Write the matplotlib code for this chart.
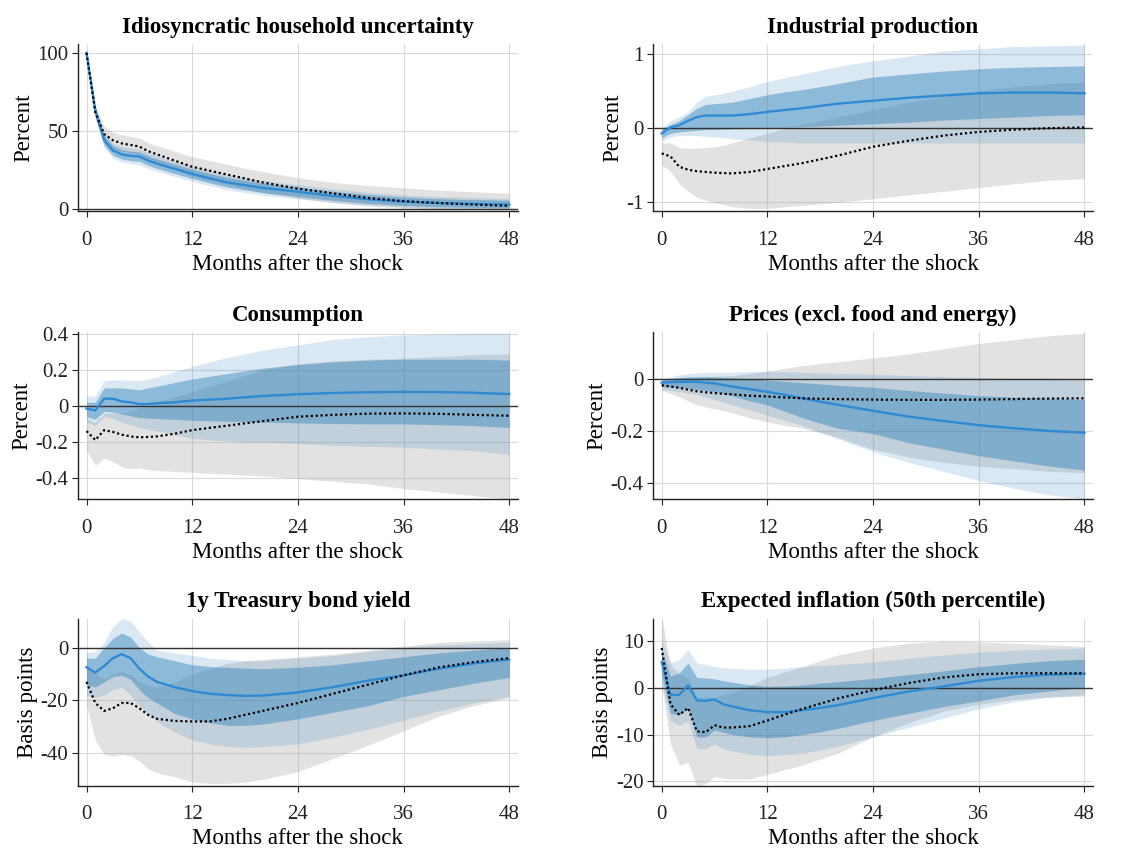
import matplotlib
matplotlib.use("Agg")
import matplotlib.pyplot as plt
from matplotlib.ticker import FuncFormatter

plt.rcParams['font.family'] = ['Liberation Serif', 'DejaVu Serif']
plt.rcParams['axes.unicode_minus'] = False

months = [0, 1, 2, 3, 4, 5, 6, 7, 8, 10, 12, 14, 16, 18, 20, 24, 28, 32, 36, 40, 44, 48]

# --- Idiosyncratic household uncertainty
unc_med = [100, 63, 44, 37.5, 35, 34, 33.6, 31, 29, 25.7, 22.5, 19.6, 17, 15.2, 13.5, 11, 8.3, 6.2, 4.7, 3.8, 3.2, 2.8]
unc_hi68 = [100, 65, 47, 40.5, 38, 37, 36.5, 34, 32, 28.7, 25.5, 22.7, 20.2, 18.3, 16.6, 14, 11.3, 9.2, 7.6, 6.6, 6, 5.6]
unc_lo68 = [100, 60, 41, 34.5, 32, 31, 30.5, 28, 26, 22.7, 19.5, 16.6, 14, 12.2, 10.5, 8, 5.5, 3.6, 2.2, 1.4, 1, 0.8]
unc_hi90 = [100, 66, 49, 42, 40, 39, 38.5, 36, 34, 30.5, 27.3, 24.5, 22, 20, 18.3, 15.6, 12.8, 10.6, 9, 8, 7.3, 6.8]
unc_lo90 = [100, 58, 39, 32.5, 30, 29, 28.5, 26, 24, 20.8, 17.7, 14.8, 12.3, 10.5, 8.8, 6.5, 4.2, 2.5, 1.2, 0.5, 0.2, 0]
unc_alt = [100, 62, 48, 44, 42, 41, 40, 37, 35, 31, 27, 24.5, 22, 19.5, 17, 13, 10, 7, 5, 3.8, 2.8, 2]
unc_alt_hi = [100, 66, 53, 49, 47.5, 46.5, 45.5, 42.5, 40.5, 37, 33.5, 31, 28.5, 26, 24, 20, 17, 15, 13.5, 12, 11, 10]
unc_alt_lo = [100, 57, 43, 39, 37, 36, 35, 31.5, 29.5, 25.5, 21, 18, 15.5, 13, 10.5, 7, 4, 2, 0.8, 0.2, 0, 0]

# --- Industrial production
ip_med = [-0.07, 0.01, 0.04, 0.1, 0.15, 0.17, 0.17, 0.17, 0.17, 0.19, 0.22, 0.245, 0.27, 0.3, 0.33, 0.37, 0.41, 0.44, 0.47, 0.48, 0.48, 0.47]
ip_hi68 = [-0.02, 0.05, 0.1, 0.18, 0.27, 0.32, 0.33, 0.34, 0.35, 0.4, 0.45, 0.49, 0.52, 0.56, 0.6, 0.69, 0.73, 0.77, 0.8, 0.82, 0.83, 0.84]
ip_lo68 = [-0.13, -0.07, -0.05, -0.04, -0.03, -0.02, -0.02, -0.015, -0.01, -0.005, 0.0, 0.01, 0.02, 0.03, 0.04, 0.06, 0.08, 0.11, 0.13, 0.15, 0.17, 0.18]
ip_hi90 = [0.0, 0.1, 0.15, 0.22, 0.35, 0.43, 0.45, 0.47, 0.5, 0.56, 0.63, 0.68, 0.73, 0.78, 0.83, 0.91, 0.97, 1.04, 1.07, 1.1, 1.11, 1.12]
ip_lo90 = [-0.17, -0.12, -0.1, -0.1, -0.1, -0.11, -0.12, -0.13, -0.14, -0.16, -0.18, -0.19, -0.2, -0.2, -0.2, -0.2, -0.2, -0.2, -0.2, -0.2, -0.2, -0.2]
ip_alt = [-0.34, -0.38, -0.52, -0.56, -0.58, -0.59, -0.6, -0.605, -0.61, -0.59, -0.55, -0.51, -0.47, -0.42, -0.37, -0.25, -0.17, -0.1, -0.05, -0.02, 0.0, 0.01]
ip_alt_hi = [-0.2, -0.2, -0.26, -0.27, -0.27, -0.26, -0.25, -0.23, -0.2, -0.13, -0.07, 0.0, 0.05, 0.1, 0.15, 0.25, 0.35, 0.43, 0.5, 0.56, 0.6, 0.62]
ip_alt_lo = [-0.5, -0.58, -0.75, -0.85, -0.93, -0.97, -1.0, -1.03, -1.06, -1.08, -1.08, -1.06, -1.04, -1.02, -1.0, -0.95, -0.9, -0.85, -0.8, -0.75, -0.7, -0.68]

# --- Consumption
con_med = [-0.015, -0.025, 0.04, 0.04, 0.025, 0.02, 0.01, 0.01, 0.015, 0.02, 0.03, 0.035, 0.04, 0.048, 0.055, 0.065, 0.072, 0.076, 0.078, 0.077, 0.073, 0.066]
con_hi68 = [0.02, 0.02, 0.1, 0.1, 0.1, 0.095, 0.09, 0.1, 0.11, 0.13, 0.15, 0.165, 0.18, 0.195, 0.21, 0.23, 0.245, 0.255, 0.26, 0.26, 0.26, 0.255]
con_lo68 = [-0.06, -0.075, -0.03, -0.035, -0.045, -0.055, -0.065, -0.068, -0.07, -0.075, -0.08, -0.083, -0.085, -0.088, -0.09, -0.095, -0.098, -0.1, -0.1, -0.105, -0.11, -0.12]
con_hi90 = [0.055, 0.055, 0.14, 0.145, 0.145, 0.142, 0.14, 0.15, 0.16, 0.19, 0.22, 0.245, 0.27, 0.29, 0.31, 0.34, 0.37, 0.385, 0.395, 0.4, 0.405, 0.405]
con_lo90 = [-0.09, -0.11, -0.06, -0.07, -0.09, -0.105, -0.12, -0.13, -0.14, -0.16, -0.18, -0.19, -0.195, -0.2, -0.2, -0.21, -0.22, -0.225, -0.23, -0.24, -0.25, -0.27]
con_alt = [-0.14, -0.19, -0.135, -0.145, -0.16, -0.17, -0.175, -0.173, -0.17, -0.155, -0.135, -0.122, -0.11, -0.097, -0.085, -0.06, -0.05, -0.043, -0.042, -0.044, -0.05, -0.055]
con_alt_hi = [-0.07, -0.09, -0.04, -0.04, -0.04, -0.03, -0.01, 0.0, 0.02, 0.05, 0.08, 0.11, 0.14, 0.17, 0.2, 0.235, 0.25, 0.26, 0.265, 0.275, 0.285, 0.29]
con_alt_lo = [-0.25, -0.33, -0.29, -0.31, -0.34, -0.35, -0.345, -0.355, -0.36, -0.365, -0.37, -0.375, -0.38, -0.385, -0.39, -0.405, -0.42, -0.435, -0.46, -0.48, -0.5, -0.52]

# --- Prices (excl. food and energy)
pr_med = [-0.015, -0.013, -0.012, -0.012, -0.012, -0.015, -0.018, -0.024, -0.03, -0.04, -0.05, -0.062, -0.075, -0.088, -0.1, -0.123, -0.145, -0.162, -0.178, -0.19, -0.2, -0.207]
pr_hi68 = [-0.005, 0.0, 0.005, 0.007, 0.008, 0.008, 0.007, 0.005, 0.004, 0.0, -0.005, -0.01, -0.015, -0.02, -0.025, -0.033, -0.045, -0.055, -0.065, -0.07, -0.075, -0.08]
pr_lo68 = [-0.03, -0.032, -0.035, -0.037, -0.04, -0.045, -0.05, -0.057, -0.065, -0.085, -0.1, -0.125, -0.15, -0.17, -0.19, -0.21, -0.245, -0.27, -0.295, -0.315, -0.335, -0.35]
pr_hi90 = [0.0, 0.008, 0.015, 0.019, 0.022, 0.024, 0.025, 0.025, 0.025, 0.028, 0.028, 0.027, 0.025, 0.022, 0.02, 0.017, 0.012, 0.008, 0.005, 0.003, 0.002, 0.0]
pr_lo90 = [-0.04, -0.045, -0.05, -0.055, -0.06, -0.07, -0.08, -0.09, -0.1, -0.12, -0.14, -0.16, -0.18, -0.205, -0.23, -0.28, -0.32, -0.355, -0.39, -0.42, -0.445, -0.46]
pr_alt = [-0.025, -0.03, -0.035, -0.042, -0.048, -0.052, -0.055, -0.058, -0.06, -0.065, -0.068, -0.072, -0.075, -0.077, -0.078, -0.08, -0.081, -0.081, -0.08, -0.078, -0.076, -0.075]
pr_alt_hi = [-0.01, -0.005, 0.0, 0.003, 0.005, 0.007, 0.008, 0.01, 0.012, 0.02, 0.03, 0.04, 0.05, 0.058, 0.065, 0.08, 0.095, 0.115, 0.135, 0.15, 0.165, 0.175]
pr_alt_lo = [-0.045, -0.055, -0.07, -0.085, -0.1, -0.108, -0.115, -0.122, -0.13, -0.15, -0.165, -0.178, -0.19, -0.207, -0.225, -0.27, -0.3, -0.32, -0.335, -0.345, -0.355, -0.36]

# --- 1y Treasury bond yield
ty_med = [-7.5, -9.5, -7, -4, -2.5, -4, -8, -11, -13, -15, -16.5, -17.5, -18, -18.3, -18.2, -17, -15, -12.5, -10.5, -8, -6, -4.5]
ty_hi68 = [-4, -4, 0, 3.5, 5.5, 4, 0, -2.5, -3.5, -5, -6.5, -7.2, -7.5, -7.8, -8, -7.5, -6.5, -5, -3.5, -2, -1, 0]
ty_lo68 = [-14, -15, -13, -11, -10.5, -12, -16, -19, -21, -25, -27, -28.5, -29.5, -29.5, -29, -27, -24.5, -22, -18.5, -16, -13.5, -11.3]
ty_hi90 = [-2, -1.5, 2, 8, 11, 10, 6, 2, -1, -2, -3, -4, -4.5, -5, -5, -4, -3, -1.5, 0, 1, 1.5, 2]
ty_lo90 = [-18, -19, -18, -16, -15, -18, -22, -25, -28, -32, -35, -36.5, -37.5, -37.8, -37.5, -36.5, -34, -31, -27.5, -24, -21, -18.5]
ty_alt = [-13, -21, -24, -23, -21, -21, -23, -25.5, -27, -27.8, -28, -28, -27, -25.5, -24, -21, -17.5, -14, -10.5, -7.5, -5.5, -4]
ty_alt_hi = [-6, -10, -12, -10, -9, -10, -13, -14, -15, -13, -10, -8, -6, -5, -4.5, -3.5, -2.5, -1, 0.5, 2, 2.5, 3]
ty_alt_lo = [-22, -35, -40.5, -41, -40.5, -41, -43, -46, -47.5, -49, -51, -51.5, -51.5, -51, -50, -47, -42, -37, -31.5, -26, -22, -19]

# --- Expected inflation (50th percentile)
ei_med = [5.5, -1.5, -1.5, 0.5, -2.7, -2.8, -2.5, -3.5, -4, -4.8, -5.2, -5.2, -4.8, -4.3, -3.7, -2.2, -0.8, 0.3, 1.5, 2.3, 2.8, 3]
ei_hi68 = [8, 2.5, 3.2, 5.3, 2.2, 2.1, 1.9, 1.5, 1.2, 0.6, 0.3, 0.4, 0.6, 1, 1.3, 2, 2.8, 3.6, 4.5, 5.2, 5.8, 6.1]
ei_lo68 = [3, -5.5, -5.8, -4.5, -10.5, -10.5, -9, -9.5, -10, -10.5, -10.7, -10.5, -10, -9.4, -8.7, -7, -5.5, -4, -2.8, -1.5, -0.7, 0.1]
ei_hi90 = [10, 5.3, 6, 8.2, 5.3, 5, 4.5, 4.3, 4.1, 4, 4, 4.2, 4.5, 4.8, 5, 5.5, 6.3, 7, 7.6, 8, 8.3, 8.5]
ei_lo90 = [1, -7, -8, -7, -13, -13, -12, -13, -13.5, -14.2, -14.5, -14.3, -14, -13.3, -12.5, -10.5, -8.5, -6.5, -4.5, -3, -2, -1.5]
ei_alt = [8.5, -3.5, -5.8, -4.3, -9.3, -9.5, -8, -8.5, -8.5, -8.2, -7, -5.7, -4.5, -3.4, -2.3, -0.5, 1, 2.2, 2.9, 3.1, 3.1, 3.1]
ei_alt_hi = [15, 5, 3, 2, -2, -2, -2, -1.5, -1, 0.5, 2.2, 3.4, 4.5, 5.8, 7, 8.5, 9.5, 10, 9.8, 9.5, 9.2, 8.8]
ei_alt_lo = [1, -12, -16.5, -16, -21, -20.5, -19, -19.3, -19.5, -19.5, -18.5, -17.5, -16.5, -15.2, -14, -10.5, -7.5, -5, -3.5, -2.5, -2, -1.8]

titles = ["Idiosyncratic household uncertainty", "Industrial production", "Consumption",
          "Prices (excl. food and energy)", "1y Treasury bond yield", "Expected inflation (50th percentile)"]
ylabels = ["Percent", "Percent", "Percent", "Percent", "Basis points", "Basis points"]
yticks = [[0, 50, 100], [-1, 0, 1], [-0.4, -0.2, 0, 0.2, 0.4], [-0.4, -0.2, 0], [-40, -20, 0], [-20, -10, 0, 10]]
ylims = [(-1.5, 105.5), (-1.12, 1.13), (-0.52, 0.41), (-0.462, 0.178), (-52.3, 11), (-20.9, 14.8)]
xticks = [0, 12, 24, 36, 48]

panels = [
    (unc_med, unc_lo68, unc_hi68, unc_lo90, unc_hi90, unc_alt, unc_alt_lo, unc_alt_hi),
    (ip_med, ip_lo68, ip_hi68, ip_lo90, ip_hi90, ip_alt, ip_alt_lo, ip_alt_hi),
    (con_med, con_lo68, con_hi68, con_lo90, con_hi90, con_alt, con_alt_lo, con_alt_hi),
    (pr_med, pr_lo68, pr_hi68, pr_lo90, pr_hi90, pr_alt, pr_alt_lo, pr_alt_hi),
    (ty_med, ty_lo68, ty_hi68, ty_lo90, ty_hi90, ty_alt, ty_alt_lo, ty_alt_hi),
    (ei_med, ei_lo68, ei_hi68, ei_lo90, ei_hi90, ei_alt, ei_alt_lo, ei_alt_hi),
]

blue = '#2c7fb8'
line_blue = '#2f8ad4'

fig = plt.figure(figsize=(11.48, 8.52), dpi=100)
lefts = [0.068, 0.569]
bottoms = [0.752, 0.414, 0.078]
w, h = 0.383, 0.196

fmt = FuncFormatter(lambda v, p: '{:g}'.format(round(v, 6)))

for i, (med, lo68, hi68, lo90, hi90, alt, alt_lo, alt_hi) in enumerate(panels):
    ax = fig.add_axes([lefts[i % 2], bottoms[i // 2], w, h])
    ax.fill_between(months, alt_lo, alt_hi, color='#a0a0a0', alpha=0.3, lw=0, zorder=1)
    ax.fill_between(months, lo90, hi90, color=blue, alpha=0.175, lw=0, zorder=2)
    ax.fill_between(months, lo68, hi68, color=blue, alpha=0.43, lw=0, zorder=3)
    ax.axhline(0, color='#333333', lw=1.0, zorder=4)
    ax.plot(months, med, color=line_blue, lw=1.7, zorder=5)
    ax.plot(months, alt, color='black', lw=1.6, ls=(0, (1, 1.2)), zorder=6)

    ax.set_xlim(-0.96, 48.96)
    ax.set_ylim(*ylims[i])
    ax.set_xticks(xticks)
    ax.set_yticks(yticks[i])
    ax.yaxis.set_major_formatter(fmt)
    ax.grid(True, color='#dadada', lw=0.8, zorder=0)
    ax.set_axisbelow(True)
    for s in ['top', 'right']:
        ax.spines[s].set_visible(False)
    for s in ['left', 'bottom']:
        ax.spines[s].set_color('#222222')
        ax.spines[s].set_linewidth(1.0)
    ax.tick_params(labelsize=15, length=4, color='#222222', labelcolor='#222222')
    ax.tick_params(axis='x', pad=10)
    ax.tick_params(axis='y', pad=3)
    ax.set_title(titles[i], fontsize=16.5, fontweight='bold', pad=8)
    ax.set_ylabel(ylabels[i], fontsize=16.5, labelpad=2)
    ax.set_xlabel("Months after the shock", fontsize=16.5, labelpad=3)

fig.savefig('out.png', dpi=100)
